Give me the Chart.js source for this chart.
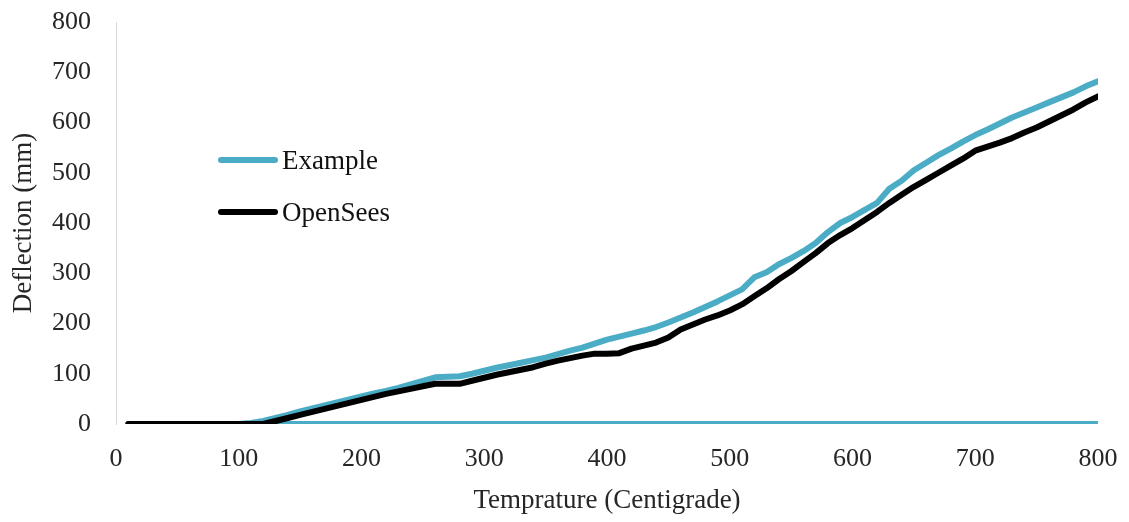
<!DOCTYPE html>
<html>
<head>
<meta charset="utf-8">
<script src="https://cdn.jsdelivr.net/npm/chart.js@4.4.0/dist/chart.umd.min.js"></script>
<style>
    html, body { margin: 0; padding: 0; background: #fff; }
    #wrap { position: relative; width: 1129px; height: 522px; }
    #legend { position: absolute; left: 218px; top: 134px; font-family: "Liberation Serif", "Times New Roman", serif; font-size: 27px; color: #111; }
    .item { display: flex; align-items: center; height: 52px; }
    .swatch { width: 60px; height: 6px; border-radius: 3px; margin-right: 4px; }
</style>
</head>
<body>
<div id="wrap">
    <canvas id="chart" width="1129" height="522"></canvas>
    <div id="legend"></div>
</div>
<script>
// Temperature (x) for each series
const exampleX = [800,
    10, 20, 30, 40, 50, 60, 70, 80, 90, 100,
    110, 120, 130, 140, 150, 160, 170, 180, 190, 200,
    210, 220, 230, 240, 250, 260, 270, 280, 290, 300,
    310, 320, 330, 340, 350, 360, 370, 380, 390, 400,
    410, 420, 430, 440, 450, 460, 470, 480, 490, 500,
    510, 520, 530, 540, 550, 560, 570, 580, 590, 600,
    610, 620, 630, 640, 650, 660, 670, 680, 690, 700,
    710, 720, 730, 740, 750, 760, 770, 780, 790, 800];
const exampleY = [0,
    0, 0, 0, 0, 0, 0, 0, 0, 0, 0,
    2, 6, 12, 18, 25, 31, 37, 43, 49, 55,
    61, 66, 72, 79, 86, 93, 94, 95, 100, 106,
    112, 117, 122, 127, 132, 139, 146, 152, 160, 168,
    174, 180, 186, 193, 202, 212, 222, 233, 244, 256,
    268, 292, 302, 318, 330, 344, 360, 382, 400, 412,
    426, 440, 468, 484, 505, 520, 535, 548, 562, 575,
    586, 598, 610, 620, 630, 640, 650, 660, 672, 682];

const openSeesX = [
    10, 20, 30, 40, 50, 60, 70, 80, 90, 100,
    110, 120, 130, 140, 150, 160, 170, 180, 190, 200,
    210, 220, 230, 240, 250, 260, 270, 280, 290, 300,
    310, 320, 330, 340, 350, 360, 370, 380, 390, 400,
    410, 420, 430, 440, 450, 460, 470, 480, 490, 500,
    510, 520, 530, 540, 550, 560, 570, 580, 590, 600,
    610, 620, 630, 640, 650, 660, 670, 680, 690, 700,
    710, 720, 730, 740, 750, 760, 770, 780, 790, 800];
const openSeesY = [
    0, 0, 0, 0, 0, 0, 0, 0, 0, 0,
    0, 0, 6, 12, 18, 24, 30, 36, 42, 48,
    54, 60, 65, 70, 75, 80, 80, 80, 86, 92,
    98, 103, 108, 113, 120, 126, 131, 136, 140, 140,
    141, 150, 156, 162, 172, 188, 198, 208, 216, 226,
    238, 254, 270, 288, 304, 322, 340, 360, 376, 390,
    406, 422, 440, 456, 472, 486, 500, 514, 528, 544,
    552, 560, 569, 580, 590, 602, 614, 626, 640, 652];

const xTicks = [0, 100, 200, 300, 400, 500, 600, 700, 800];
const yTicks = [0, 100, 200, 300, 400, 500, 600, 700, 800];

function toPoints(xs, ys) {
    return xs.map((x, i) => ({ x: x, y: ys[i] }));
}

const tickFont = { family: '"Liberation Serif", "Times New Roman", serif', size: 26 };
const titleFont = { family: '"Liberation Serif", "Times New Roman", serif', size: 27 };

document.addEventListener('DOMContentLoaded', function() {
    const datasets = [
        {
            label: 'Example',
            data: toPoints(exampleX, exampleY),
            borderColor: '#4bacc6',
            borderWidth: 6,
            order: 2
        },
        {
            label: 'OpenSees',
            data: toPoints(openSeesX, openSeesY),
            borderColor: '#000000',
            borderWidth: 6,
            order: 1
        }
    ];

    new Chart(document.getElementById('chart'), {
        type: 'scatter',
        data: { datasets: datasets },
        options: {
            responsive: false,
            animation: false,
            showLine: true,
            elements: {
                point: { radius: 0 },
                line: { tension: 0, borderCapStyle: 'round', borderJoinStyle: 'round' }
            },
            layout: { autoPadding: false, padding: { left: 0, right: 31, top: 22, bottom: 0 } },
            plugins: {
                legend: { display: false },
                tooltip: { enabled: false }
            },
            scales: {
                x: {
                    type: 'linear',
                    min: 0,
                    max: 800,
                    afterBuildTicks: function(axis) {
                        axis.ticks = xTicks.map(v => ({ value: v }));
                    },
                    afterFit: function(axis) {
                        // fixed band under the plot, no extra label overflow padding
                        axis.height = 98;
                        axis.paddingLeft = 0;
                        axis.paddingRight = 0;
                    },
                    grid: { display: false, drawTicks: false },
                    border: { display: false },
                    ticks: { color: '#262626', font: tickFont, padding: 20, maxRotation: 0 },
                    title: { display: true, text: 'Temprature (Centigrade)', color: '#262626', font: titleFont, padding: { top: 12, bottom: 5 } }
                },
                y: {
                    type: 'linear',
                    min: 0,
                    max: 800,
                    afterBuildTicks: function(axis) {
                        axis.ticks = yTicks.map(v => ({ value: v }));
                    },
                    afterFit: function(axis) {
                        axis.width = 116;
                        axis.paddingTop = 0;
                        axis.paddingBottom = 0;
                    },
                    grid: { display: false, drawTicks: false },
                    border: { display: true, color: '#d9d9d9', width: 1 },
                    ticks: { color: '#262626', font: tickFont, padding: 25 },
                    title: { display: true, text: 'Deflection (mm)', color: '#262626', font: titleFont, padding: { top: 8, bottom: 11 } }
                }
            }
        }
    });

    // Legend placed inside the plot, like the original
    const legend = document.getElementById('legend');
    datasets.forEach(ds => {
        const row = document.createElement('div');
        row.className = 'item';
        const sw = document.createElement('span');
        sw.className = 'swatch';
        sw.style.background = ds.borderColor;
        const txt = document.createElement('span');
        txt.textContent = ds.label;
        row.appendChild(sw);
        row.appendChild(txt);
        legend.appendChild(row);
    });
});
</script>
</body>
</html>
